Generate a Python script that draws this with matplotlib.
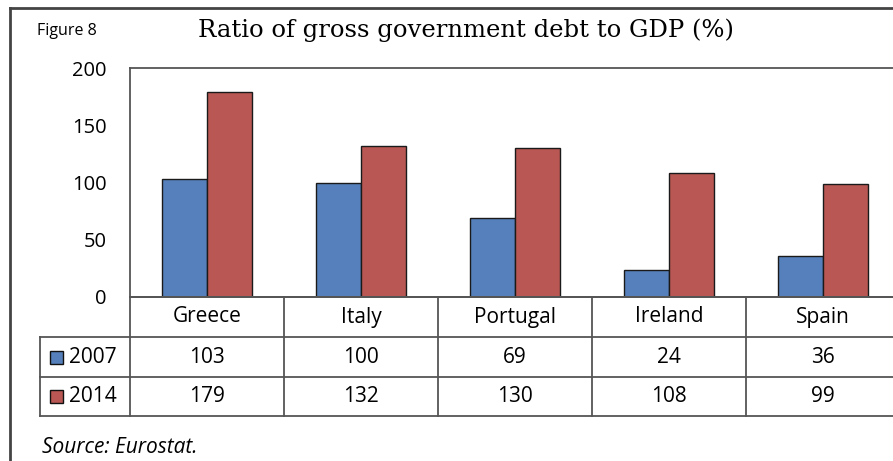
import matplotlib.pyplot as plt
import matplotlib.transforms as mtransforms
from matplotlib.patches import Rectangle
from matplotlib.lines import Line2D
import numpy as np

countries = ['Greece', 'Italy', 'Portugal', 'Ireland', 'Spain']
years = ['2007', '2014']
debt_2007 = [103, 100, 69, 24, 36]
debt_2014 = [179, 132, 130, 108, 99]
colors = ['#5680bb', '#b85754']

W, H = 893, 461
fig = plt.figure(figsize=(W / 100, H / 100), dpi=100)
sans = 'Open Sans'

def fx(px):
    return px / W

def fy(py):
    return 1 - py / H

# plot area runs a little past the right edge of the figure
ax = fig.add_axes([fx(130), fy(297), fx(900) - fx(130), fy(68) - fy(297)])
x = np.arange(len(countries)) + 0.5
bw = 0.29
ax.bar(x - bw / 2, debt_2007, bw, color=colors[0], edgecolor='#1a1a1a', linewidth=1)
ax.bar(x + bw / 2, debt_2014, bw, color=colors[1], edgecolor='#1a1a1a', linewidth=1)
ax.set_xlim(0, len(countries))
ax.set_ylim(0, 200)
ax.set_yticks([0, 50, 100, 150, 200])
ax.set_xticks([])
ax.tick_params(axis='y', length=0, pad=17, labelsize=14.5)
for lab in ax.get_yticklabels():
    lab.set_fontfamily(sans)
for s in ax.spines.values():
    s.set_color('#555555')
    s.set_linewidth(1.3)

# data table under the axis: x in data units, y in figure fraction
tr = mtransforms.blended_transform_factory(ax.transData, fig.transFigure)
lc = '#555555'
rows_y = [fy(297), fy(337), fy(377), fy(416)]
x_left = -0.585
for i, yy in enumerate(rows_y):
    x0 = 0 if i == 0 else x_left
    fig.add_artist(Line2D([x0, len(countries)], [yy, yy], transform=tr, color=lc, lw=1.3))
for k in range(len(countries) + 1):
    fig.add_artist(Line2D([k, k], [rows_y[0], rows_y[-1]], transform=tr, color=lc, lw=1.3))
fig.add_artist(Line2D([x_left, x_left], [rows_y[1], rows_y[-1]], transform=tr, color=lc, lw=1.3))

tfont = dict(family=sans, fontsize=15, ha='center', va='center', transform=tr)
for i, c in enumerate(countries):
    fig.text(x[i], (rows_y[0] + rows_y[1]) / 2, c, **tfont)
    fig.text(x[i], (rows_y[1] + rows_y[2]) / 2, str(debt_2007[i]), **tfont)
    fig.text(x[i], (rows_y[2] + rows_y[3]) / 2, str(debt_2014[i]), **tfont)

for j, yr in enumerate(years):
    yc = (rows_y[j + 1] + rows_y[j + 2]) / 2
    fig.add_artist(Rectangle((fx(50), yc - 6.5 / H), 13 / W, 13 / H,
                             transform=fig.transFigure, facecolor=colors[j],
                             edgecolor='#111111', lw=1))
    fig.text(fx(69), yc, yr, family=sans, fontsize=15, ha='left', va='center')

# outer frame
fig.add_artist(Line2D([fx(10), fx(10)], [fy(8), 0], transform=fig.transFigure, color='#444444', lw=2))
fig.add_artist(Line2D([fx(10), 1], [fy(8), fy(8)], transform=fig.transFigure, color='#444444', lw=2))

fig.text(fx(37), fy(31), 'Figure 8', family=sans, fontsize=11.5, ha='left', va='center')
fig.text(fx(466), fy(30), 'Ratio of gross government debt to GDP (%)',
         family='DejaVu Serif', fontsize=17.5, ha='center', va='center')
fig.text(fx(42), fy(447), 'Source: Eurostat.', family=sans, style='italic',
         fontsize=15, ha='left', va='center')

fig.savefig('out.png', dpi=100)
